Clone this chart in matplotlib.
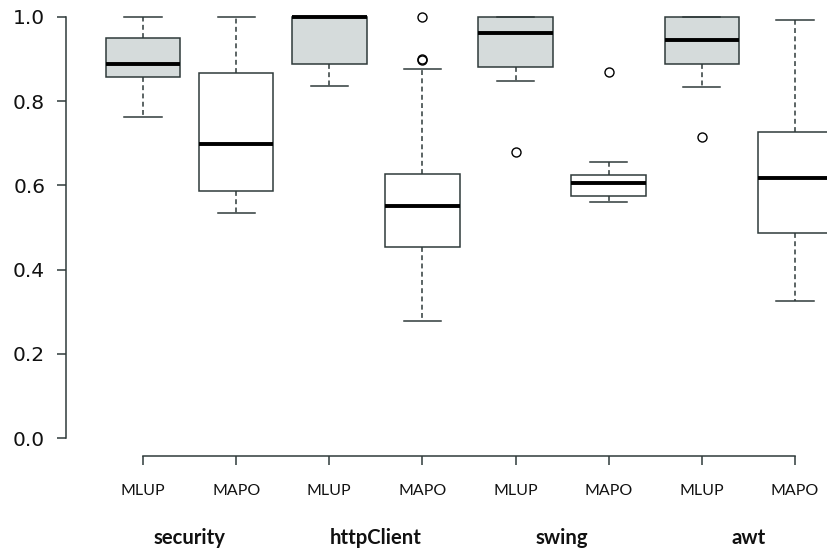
import matplotlib
matplotlib.use("Agg")
import matplotlib.pyplot as plt
import matplotlib.transforms as mtransforms

# ---- data ----
groups = ["security", "httpClient", "swing", "awt"]
methods = ["MLUP", "MAPO"]
whislo = [0.762, 0.535, 0.837, 0.279, 0.848, 0.561, 0.833, 0.325]
q1     = [0.857, 0.586, 0.888, 0.454, 0.882, 0.576, 0.888, 0.486]
med    = [0.888, 0.698, 1.000, 0.551, 0.962, 0.605, 0.945, 0.617]
q3     = [0.949, 0.866, 1.000, 0.628, 1.000, 0.624, 1.000, 0.726]
whishi = [1.000, 1.000, 1.000, 0.877, 1.000, 0.655, 1.000, 0.994]
fliers = [[], [], [], [1.0, 0.900, 0.899], [0.679], [0.870], [0.716], []]
yticks = [0.0, 0.2, 0.4, 0.6, 0.8, 1.0]
ytick_labels = ["0.0", "0.2", "0.4", "0.6", "0.8", "1.0"]

W, H = 828, 552
fig = plt.figure(figsize=(W / 100, H / 100), dpi=100)

# layout in pixels
y0_pix, scale = 438.0, 421.0      # pixel of value 0, pixels per unit
x1_pix, dx = 143.0, 93.14         # pixel of first box, spacing
ylo, yhi = (y0_pix - 456) / scale, (y0_pix - 0.0) / scale
xlo = 1 - (x1_pix - 66) / dx
xhi = 8.8
left = 66 / W
right_pix = x1_pix + (xhi - 1) * dx
bottom = (H - 456) / H
top = (H - 0.0) / H
ax = fig.add_axes([left, bottom, (right_pix - 66) / W, top - bottom])

stats = []
n = len(med)
for i in range(n):
    stats.append(dict(med=med[i], q1=q1[i], q3=q3[i], whislo=whislo[i],
                      whishi=whishi[i], fliers=fliers[i]))

edge = "#2f3a3a"
positions = list(range(1, n + 1))
bp = ax.bxp(stats, positions=positions, widths=0.8, capwidths=0.4,
            patch_artist=True, showfliers=True,
            boxprops=dict(linewidth=1.1, edgecolor=edge),
            medianprops=dict(linewidth=2.8, color="black", solid_capstyle="butt"),
            whiskerprops=dict(linewidth=1.1, color=edge, linestyle=(0, (3.2, 2.2))),
            capprops=dict(linewidth=1.1, color=edge),
            flierprops=dict(marker="o", markersize=6.5, markerfacecolor="none",
                            markeredgecolor="black", markeredgewidth=1.0))
for i, patch in enumerate(bp["boxes"]):
    patch.set_facecolor("#d5dbdb" if i % 2 == 0 else "white")

ax.set_xlim(xlo, xhi)
ax.set_ylim(ylo, yhi)

for s in ["top", "right"]:
    ax.spines[s].set_visible(False)
ax.spines["left"].set_bounds(0, 1)
ax.spines["bottom"].set_bounds(1, n)
for s in ["left", "bottom"]:
    ax.spines[s].set_color(edge)
    ax.spines[s].set_linewidth(1.1)

ax.set_yticks(yticks)
ax.set_yticklabels(ytick_labels, fontsize=14.5, family="DejaVu Sans", color="#111111")
ax.tick_params(axis="y", length=6.5, width=1.1, color=edge, pad=8.5)

xlabels = [methods[i % 2] for i in range(n)]
ax.set_xticks(positions)
ax.set_xticklabels(xlabels, fontsize=11.5, family="Lato", color="#111111")
ax.tick_params(axis="x", length=6.5, width=1.1, color=edge, pad=14)

# group labels
trans = mtransforms.blended_transform_factory(ax.transData, fig.transFigure)
for g, name in enumerate(groups):
    xc = (positions[2 * g] + positions[2 * g + 1]) / 2
    ax.text(xc, (H - 538) / H, name, transform=trans, ha="center", va="center",
            fontsize=14.6, family="Lato", fontweight="bold", color="#111111")

fig.savefig("out.png", dpi=100)
